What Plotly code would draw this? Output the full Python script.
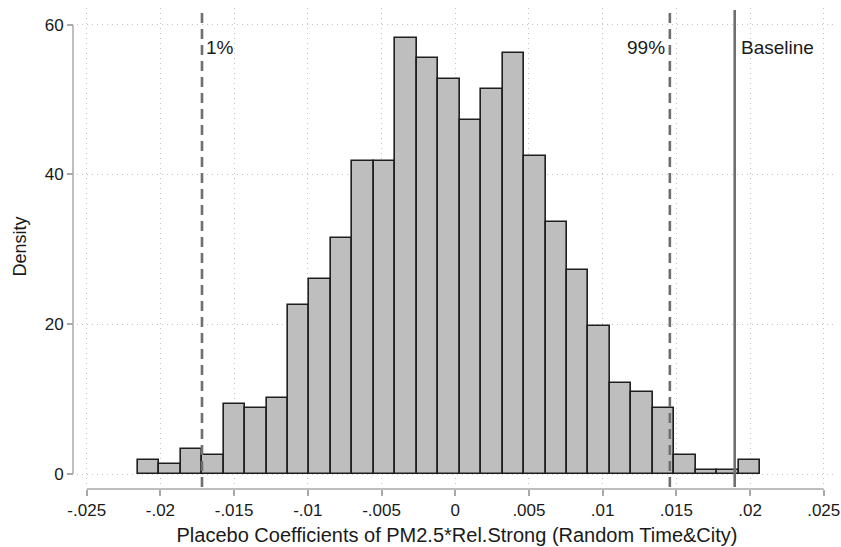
import plotly.graph_objects as go

# Placebo-test histogram: density of placebo coefficients
bin_start = -0.02154
bin_width = 0.001456
density = [1.9, 1.3, 3.3, 2.6, 9.4, 8.8, 10.1, 22.5, 26.0, 31.5,
           41.8, 41.8, 58.2, 55.5, 52.8, 47.3, 51.4, 56.2, 42.5, 33.6,
           27.3, 19.8, 12.2, 10.9, 8.8, 2.6, 0.6, 0.6, 1.9]

# Reference lines
pct_lines = {"1%": -0.01718, "99%": 0.01456}
baseline = 0.01896

x_tickvals = [-0.025, -0.02, -0.015, -0.01, -0.005, 0, 0.005, 0.01, 0.015, 0.02, 0.025]
x_ticktext = ["-.025", "-.02", "-.015", "-.01", "-.005", "0", ".005", ".01", ".015", ".02", ".025"]
y_tickvals = [0, 20, 40, 60]
y_ticktext = ["0", "20", "40", "60"]

centers = [bin_start + bin_width * (i + 0.5) for i in range(len(density))]

FONT = "Liberation Sans, Arial, sans-serif"
AXIS_GRAY = "#a9a9a9"
GRID_GRAY = "#c4c4c4"

fig = go.Figure()
fig.add_trace(go.Bar(
    x=centers, y=density, width=bin_width,
    marker=dict(color="#bebebe", line=dict(color="#1e1e1e", width=1.6)),
    showlegend=False, hoverinfo="x+y",
))

shapes = []
# axis lines spanning only the labelled range
shapes.append(dict(type="line", xref="x", yref="paper",
                   x0=x_tickvals[0], x1=x_tickvals[-1], y0=0, y1=0,
                   line=dict(color=AXIS_GRAY, width=1.5)))
shapes.append(dict(type="line", xref="paper", yref="y",
                   x0=0, x1=0, y0=y_tickvals[0], y1=y_tickvals[-1],
                   line=dict(color=AXIS_GRAY, width=1.5)))
# percentile cut-offs (dashed) and baseline estimate (solid)
for name, xv in pct_lines.items():
    shapes.append(dict(type="line", xref="x", yref="paper",
                       x0=xv, x1=xv, y0=0.004, y1=0.996,
                       line=dict(color="#6f6f6f", width=2.6, dash="10px,6px")))
shapes.append(dict(type="line", xref="x", yref="paper",
                   x0=baseline, x1=baseline, y0=0.004, y1=0.996,
                   line=dict(color="#6f6f6f", width=2.6)))

annotations = [
    dict(x=pct_lines["1%"], y=57.0, xref="x", yref="y", text="1%",
         showarrow=False, xanchor="left", xshift=2,
         font=dict(family=FONT, size=19, color="#1a1a1a")),
    dict(x=pct_lines["99%"], y=57.0, xref="x", yref="y", text="99%",
         showarrow=False, xanchor="right", xshift=-3,
         font=dict(family=FONT, size=19, color="#1a1a1a")),
    dict(x=baseline, y=57.0, xref="x", yref="y", text="Baseline",
         showarrow=False, xanchor="left", xshift=4,
         font=dict(family=FONT, size=19, color="#1a1a1a")),
]

fig.update_layout(
    width=841, height=547,
    margin=dict(l=73, r=1, t=8, b=58),
    paper_bgcolor="white", plot_bgcolor="white",
    bargap=0,
    font=dict(family=FONT, color="#1a1a1a"),
    shapes=shapes, annotations=annotations,
    xaxis=dict(
        domain=[4 / 767, 1],
        range=[-0.02566, 0.02590],
        anchor="free", position=0,
        tickvals=x_tickvals, ticktext=x_ticktext,
        ticks="outside", ticklen=6, tickwidth=1.5, tickcolor=AXIS_GRAY,
        tickfont=dict(family=FONT, size=17, color="#1a1a1a"),
        ticklabeloverflow="allow",
        showline=False, zeroline=False,
        showgrid=True, gridcolor=GRID_GRAY, griddash="1px,4px", gridwidth=1,
        title=dict(text="Placebo Coefficients of PM2.5*Rel.Strong (Random Time&City)",
                   font=dict(family=FONT, size=20, color="#1a1a1a"), standoff=8),
    ),
    yaxis=dict(
        domain=[4 / 481, 1],
        range=[-1.469, 62.22],
        anchor="free", position=0,
        tickvals=y_tickvals, ticktext=y_ticktext,
        ticks="outside", ticklen=6, tickwidth=1.5, tickcolor=AXIS_GRAY,
        tickfont=dict(family=FONT, size=17, color="#1a1a1a"),
        showline=False, zeroline=False,
        showgrid=True, gridcolor=GRID_GRAY, griddash="1px,4px", gridwidth=1,
        title=dict(text="Density", font=dict(family=FONT, size=18, color="#1a1a1a"),
                   standoff=12),
    ),
)

fig.write_html("out.html")
